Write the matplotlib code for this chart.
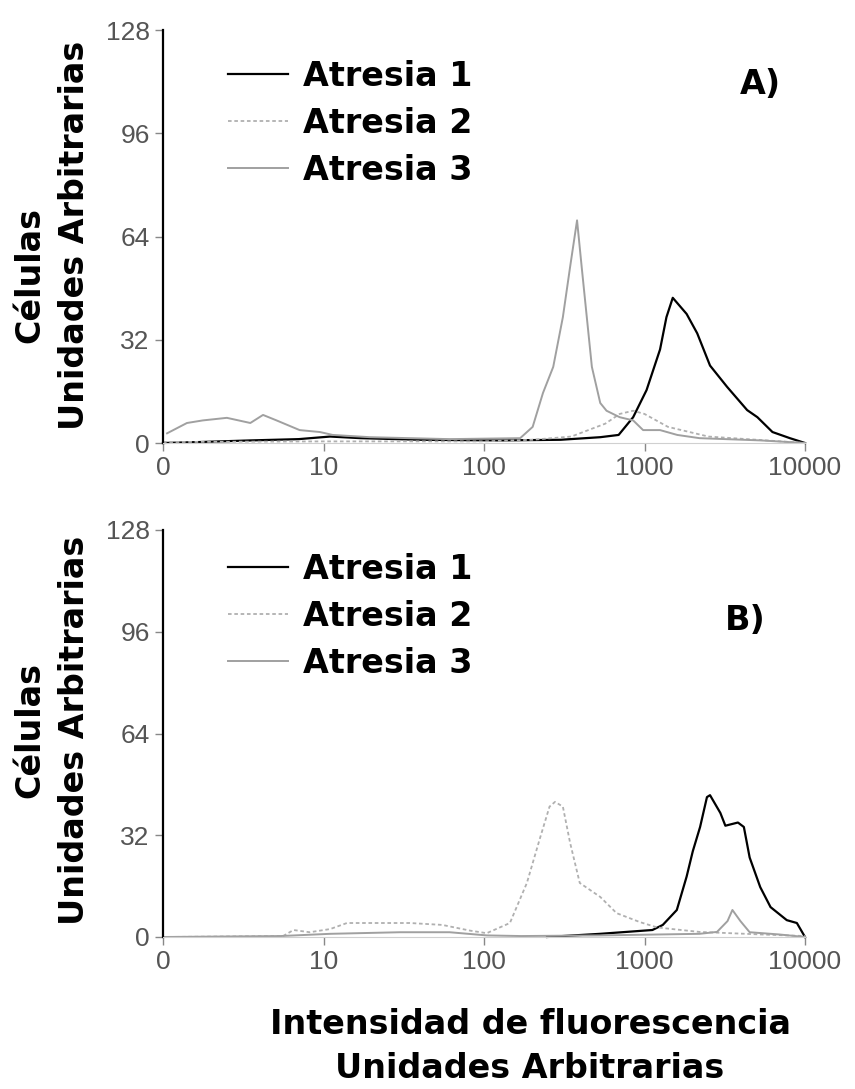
import matplotlib.pyplot as plt

# tick positions / labels (log axis, first decade labelled "0")
x_ticks = [1, 10, 100, 1000, 10000]
x_tick_labels = ["0", "10", "100", "1000", "10000"]
y_ticks = [0, 32, 64, 96, 128]

# ---- panel A ----
a1_x = [1, 1.7, 3.5, 7, 11, 17, 40, 125, 300, 530, 690, 850, 1030, 1250, 1370,
        1500, 1830, 2130, 2560, 3270, 4360, 5050, 6270, 8050, 10000]
a1_y = [0, 0.3, 0.8, 1.2, 2.0, 1.5, 1.0, 0.8, 1.0, 1.8, 2.5, 8, 16.4, 29, 39,
        45, 40, 34, 24, 17.4, 10.2, 8, 3.4, 1.5, 0]

a2_x = [1, 10, 100, 200, 350, 570, 700, 850, 1000, 1400, 2500, 5000, 10000]
a2_y = [0.3, 0.5, 0.5, 1, 2, 6, 9, 10, 9, 5, 2, 1, 0]

a3_x = [1.06, 1.41, 1.77, 2.5, 3.5, 4.2, 5.1, 7.1, 9.5, 11.4, 19.5, 61, 168,
        201, 233, 270, 310, 344, 380, 406, 437, 470, 530, 580, 700, 850, 980,
        1250, 1600, 2200, 5300, 10000]
a3_y = [3, 6.2, 7, 7.8, 6.2, 8.7, 7, 4, 3.4, 2.5, 1.8, 1.2, 1.5,
        5, 15.5, 23.6, 39, 54.6, 69, 54.6, 39, 23.6, 12.4, 10, 8, 7, 4,
        4, 2.5, 1.5, 0.8, 0]

# ---- panel B ----
b1_x = [247, 530, 1120, 1300, 1590, 1830, 2000, 2220, 2450, 2560, 2970, 3190,
        3820, 4160, 4520, 5260, 6100, 7700, 8900, 10000]
b1_y = [0, 1, 2.2, 3.8, 8.5, 19, 27, 34.6, 44, 44.6, 39, 35,
        36, 34.6, 25, 15.7, 9.4, 5.3, 4.4, 0]

b2_x = [1, 5.6, 6.5, 8.2, 11, 14, 20, 34.5, 55, 82, 104, 145, 185, 223, 256,
        277, 310, 344, 395, 530, 670, 935, 1200, 2200, 5300, 10000]
b2_y = [0, 0.3, 2.2, 1.5, 2.5, 4.4, 4.4, 4.4, 3.8, 2, 1.2, 4.4, 17, 31, 41,
        42.5, 41, 29.6, 17, 12.6, 7.5, 4.7, 3, 1.6, 0.8, 0.3]

b3_x = [1, 5.4, 11, 30, 61, 104, 170, 530, 2200, 2830, 3290, 3530, 3960, 4520,
        6900, 10000]
b3_y = [0, 0.3, 1, 1.5, 1.5, 0.5, 0.3, 0.5, 1, 1.6, 5, 8.5, 5, 1.5,
        0.8, 0]

labels = ["Atresia 1", "Atresia 2", "Atresia 3"]
styles = [
    dict(color="black", lw=1.6, ls="-"),
    dict(color="#b0b0b0", lw=1.3, ls=(0, (2, 1.5))),
    dict(color="#a0a0a0", lw=1.4, ls="-"),
]

W, H = 855, 1089
bold = dict(family="DejaVu Sans", weight="bold", size=24)

fig = plt.figure(figsize=(W / 100, H / 100), dpi=100)


def make_axes(top_px, bottom_px):
    ax = fig.add_axes([163 / W, 1 - bottom_px / H, (805 - 163) / W,
                       (bottom_px - top_px) / H])
    ax.set_xscale("log")
    ax.set_xlim(1, 10000)
    ax.set_ylim(0, 128)
    ax.set_xticks(x_ticks)
    ax.set_xticklabels(x_tick_labels)
    ax.minorticks_off()
    ax.set_yticks(y_ticks)
    for s in ["top", "right"]:
        ax.spines[s].set_visible(False)
    ax.spines["left"].set_linewidth(1.6)
    ax.spines["bottom"].set_color("#d0d0d0")
    ax.spines["bottom"].set_linewidth(0.8)
    ax.tick_params(axis="both", colors="#888888", labelcolor="#555555",
                   labelsize=19, length=6, width=1)
    for t in ax.get_xticklabels() + ax.get_yticklabels():
        t.set_family("Liberation Sans")
    return ax


def draw(ax, series, legend_top_px):
    handles = []
    for (x, y), st, lab in zip(series, styles, labels):
        (h,) = ax.plot(x, y, label=lab, clip_on=False, **st)
        handles.append(h)
    ax.legend(handles, labels, loc="upper left",
              bbox_to_anchor=(228 / W, 1 - legend_top_px / H),
              bbox_transform=fig.transFigure, frameon=False,
              handlelength=1.8, handletextpad=0.45, labelspacing=0.42,
              borderpad=0, borderaxespad=0, prop=bold)


axA = make_axes(30, 443)
draw(axA, [(a1_x, a1_y), (a2_x, a2_y), (a3_x, a3_y)], 60)
axB = make_axes(530, 937)
draw(axB, [(b1_x, b1_y), (b2_x, b2_y), (b3_x, b3_y)], 553)

fig.text(760 / W, 1 - 85 / H, "A)", ha="center", va="center", **bold)
fig.text(745 / W, 1 - 620 / H, "B)", ha="center", va="center", **bold)

for cy_c, cy_u in [(275, 235), (730, 730)]:
    fig.text(30 / W, 1 - cy_c / H, "Células", rotation=90,
             ha="center", va="center", **bold)
    fig.text(75 / W, 1 - cy_u / H, "Unidades Arbitrarias", rotation=90,
             ha="center", va="center", **bold)

fig.text(530 / W, 1 - 1025 / H, "Intensidad de fluorescencia",
         ha="center", va="center", **bold)
fig.text(530 / W, 1 - 1068 / H, "Unidades Arbitrarias",
         ha="center", va="center", **bold)

fig.savefig("out.png", dpi=100)
